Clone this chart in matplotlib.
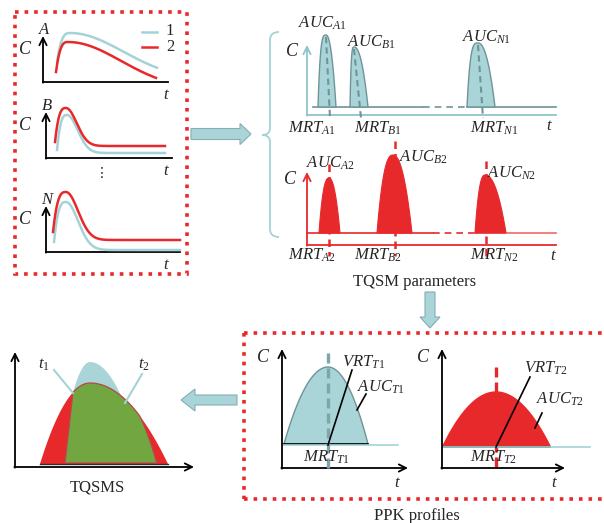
import numpy as np
import matplotlib
matplotlib.use("Agg")
import matplotlib.pyplot as plt
from matplotlib.patches import FancyArrow, Polygon, Rectangle, PathPatch
from matplotlib.path import Path

plt.rcParams["font.family"] = "Liberation Serif"
plt.rcParams["mathtext.fontset"] = "custom"
plt.rcParams["mathtext.it"] = "Liberation Serif:italic"
plt.rcParams["mathtext.rm"] = "Liberation Serif"

BLUE = "#a9d5d8"
BLUE_LINE = "#a4d3d7"
BLUE_EDGE = "#6f9498"
RED = "#e8292b"
GREEN = "#72a641"
INK = "#262626"

# ---------------------------------------------------------------------------
# Schematic data (pixel space, y grows downward)
# ---------------------------------------------------------------------------
PK_NAMES = ["A", "B", "N"]
# concentration curves: (start x, start y, peak x, peak y, plateau y, decay width, end x)
PK_GROUP1 = [(57, 62, 70, 33, 80, 75, 157),
             (57, 150, 67, 115, 153, 15, 165),
             (54, 242, 66, 202, 250, 17, 180)]
PK_GROUP2 = [(56, 72, 68, 42, 90, 75, 156),
             (55, 142, 66, 108, 146, 15, 165),
             (53, 232, 66, 192, 240, 17, 180)]
PK_AXIS_X = [43, 46, 46]
PK_AXIS_Y = [82, 158, 252]
PK_AXIS_END = [168, 172, 180]

# TQSM peaks: (left foot, peak x, right foot), peak top, MRT position
TQSM1_SPAN = [(318, 326, 336), (350, 354, 368), (467, 478, 495)]
TQSM1_TOP = [35, 47, 43]
TQSM1_MRT = [330, 361, 483]
TQSM2_SPAN = [(319, 329, 340), (377, 393, 412), (475, 485, 506)]
TQSM2_TOP = [178, 155, 175]
TQSM2_MRT = [329, 395, 486]

# PPK profiles: (left foot, peak x, right foot), baseline, top
PPK_SPAN = [(284, 328, 368), (443, 496, 550)]
PPK_BASE = [444, 446]
PPK_TOP = [367, 392]

# TQSMS overlap: red profile, blue profile, green common area
TQSMS_RED = (40, 90, 168, 383)
TQSMS_BLUE = (59, 90, 144, 362)
TQSMS_GREEN = (65, 73, 157)
TQSMS_BASE = 464


def pk_curve(xs, ys, xp, yp, plateau, tau, xe, n=200):
    x1 = np.linspace(xs, xp, n // 4)
    u = (x1 - xs) / (xp - xs)
    y1 = ys + (yp - ys) * (1 - (1 - u) ** 3)
    x2 = np.linspace(xp, xe, n)
    y2 = plateau + (yp - plateau) * np.exp(-((x2 - xp) / tau) ** 2)
    return np.r_[x1, x2], np.r_[y1, y2]


def hump(x0, xp, x1, base, top, pl=2, pr=2, n=120):
    xl = np.linspace(x0, xp, n)
    fl = 1 - (1 - (xl - x0) / (xp - x0)) ** pl
    xr = np.linspace(xp, x1, n)
    fr = 1 - ((xr - xp) / (x1 - xp)) ** pr
    x = np.r_[xl, xr]
    f = np.r_[fl, fr]
    return x, base - (base - top) * f


def axis_arrow(ax, tail, tip, color="black", lw=1.3):
    ax.annotate("", xy=tip, xytext=tail,
                arrowprops=dict(arrowstyle="->", lw=lw, color=color,
                                shrinkA=0, shrinkB=0, mutation_scale=13))


def label(ax, x, y, s, size=12, **kw):
    ax.text(x, y, s, ha="center", va="center", fontsize=size, color=INK, **kw)


def block_arrow(ax, x, y, dx, dy, width, head_w, head_l):
    ax.add_patch(FancyArrow(x, y, dx, dy, width=width, head_width=head_w,
                            head_length=head_l, length_includes_head=True,
                            facecolor=BLUE, edgecolor="#86aeb2", lw=0.8, zorder=2))


def sub(name, digit):
    return r"%s\mathrm{%s}" % (name, digit)


fig = plt.figure(figsize=(6.04, 5.23), dpi=100)
ax = fig.add_axes([0, 0, 1, 1])
ax.set_xlim(0, 604)
ax.set_ylim(523, 0)
ax.axis("off")

# ---- left column: concentration curves of each component ----
ax.add_patch(Rectangle((15, 12), 172, 262, fill=False, edgecolor=RED,
                       lw=2.6, linestyle=":"))
for i, name in enumerate(PK_NAMES):
    x0, y0 = PK_AXIS_X[i], PK_AXIS_Y[i]
    axis_arrow(ax, (x0, y0 + 0.7), (x0, y0 - 46))
    ax.plot([x0, PK_AXIS_END[i]], [y0, y0], color="black", lw=1.3)
    label(ax, x0 + 1, y0 - 52, name, style="italic")
    label(ax, 25, y0 - 33, "C", size=13, style="italic")
    label(ax, 166, y0 + 13, "t", style="italic")
    xb, yb = pk_curve(*PK_GROUP1[i])
    xr, yr = pk_curve(*PK_GROUP2[i])
    ax.plot(xb, yb, color=BLUE_LINE, lw=1.8)
    ax.plot(xr, yr, color=RED, lw=1.8)
ax.plot([142, 157], [32, 32], color=BLUE_LINE, lw=1.8)
ax.plot([142, 157], [47, 47], color=RED, lw=1.8)
label(ax, 170, 31, "1", size=12)
label(ax, 170, 47, "2", size=12)
label(ax, 102, 173, "\u22ee", size=10, family="DejaVu Sans")

block_arrow(ax, 191, 134, 60, 0, 11, 21, 11)

# bracket
verts = [(279, 32), (270, 32), (270, 40), (270, 128), (270, 135), (262, 135),
         (270, 135), (270, 142), (270, 229), (270, 237), (279, 237)]
codes = [Path.MOVETO, Path.CURVE3, Path.CURVE3, Path.LINETO, Path.CURVE3,
         Path.CURVE3, Path.CURVE3, Path.CURVE3, Path.LINETO, Path.CURVE3,
         Path.CURVE3]
ax.add_patch(PathPatch(Path(verts, codes), fill=False, edgecolor=BLUE_LINE, lw=1.3))

# ---- TQSM parameters, group 1 ----
ax_col = "#8cc4ca"
axis_arrow(ax, (307, 115.7), (307, 45), color=ax_col)
ax.plot([307, 556], [115, 115], color=ax_col, lw=1.3)
label(ax, 292, 52, "C", size=13, style="italic")
label(ax, 549, 126, "t", style="italic")
ax.plot([313, 423], [107, 107], color=BLUE_EDGE, lw=1.2)
ax.plot([423, 467], [107, 107], color=BLUE_EDGE, lw=1.2, linestyle=(0, (4, 3)))
ax.plot([467, 556], [107, 107], color=BLUE_EDGE, lw=1.2)
auc1_pos = [(322, 23), (371, 42), (487, 37)]
mrt1_pos = [(312, 128), (378, 128), (494, 128)]
for i, name in enumerate(PK_NAMES):
    x, y = hump(*TQSM1_SPAN[i], 107, TQSM1_TOP[i], pl=3.5, pr=2.2)
    ax.fill(x, y, facecolor=BLUE, edgecolor=BLUE_EDGE, lw=1.0, zorder=2)
    xp = TQSM1_SPAN[i][1]
    ax.plot([xp, TQSM1_MRT[i]], [TQSM1_TOP[i] + 2, 118], color="#6f9498",
            lw=1.5, linestyle=(0, (3, 2)), zorder=3)
    label(ax, *auc1_pos[i], r"$AUC_{%s}$" % sub(name, 1))
    label(ax, *mrt1_pos[i], r"$MRT_{%s}$" % sub(name, 1))

# ---- TQSM parameters, group 2 ----
axis_arrow(ax, (307, 245.7), (307, 172), color=RED)
ax.plot([307, 556], [245, 245], color=RED, lw=1.3)
label(ax, 290, 180, "C", size=13, style="italic")
label(ax, 553, 256, "t", style="italic")
ax.plot([307, 433], [233, 233], color=RED, lw=1.2)
ax.plot([433, 475], [233, 233], color=RED, lw=1.2, linestyle=(0, (4, 3)))
ax.plot([475, 556], [233, 233], color="#ef6a6a", lw=1.2)
auc2_pos = [(330, 163), (423, 157), (512, 173)]
mrt2_pos = [(312, 255), (378, 255), (494, 255)]
for i, name in enumerate(PK_NAMES):
    ax.plot([TQSM2_MRT[i], TQSM2_MRT[i]], [TQSM2_TOP[i] - 14, 256], color=RED,
            lw=1.8, linestyle=(0, (3, 2)), zorder=1)
    x, y = hump(*TQSM2_SPAN[i], 233, TQSM2_TOP[i], pl=2.5, pr=2.2)
    ax.fill(x, y, facecolor=RED, edgecolor=RED, lw=0.8, zorder=2)
    label(ax, *auc2_pos[i], r"$AUC_{%s}$" % sub(name, 2))
    label(ax, *mrt2_pos[i], r"$MRT_{%s}$" % sub(name, 2))
label(ax, 415, 282, "TQSM parameters", size=12)

block_arrow(ax, 430, 292, 0, 36, 10, 20, 11)

# ---- PPK profiles ----
ax.plot([244, 604], [333, 333], color=RED, lw=2.6, linestyle=":")
ax.plot([244, 244], [333, 499], color=RED, lw=2.6, linestyle=":")
ax.plot([244, 604], [499, 499], color=RED, lw=2.6, linestyle=":")
label(ax, 417, 516, "PPK profiles", size=12)

ppk_axis_x = [282, 442]
ppk_axis_end = [408, 565]
ppk_fill = [BLUE, RED]
ppk_edge = [BLUE_EDGE, RED]
vrt_pos = [(364, 362), (546, 368)]
vrt_line = [((328, 445), (352, 370)), ((496, 447), (530, 377))]
auc_pos = [(381, 387), (560, 399)]
auc_line = [((357, 410), (366, 394)), ((535, 428), (542, 413))]
mrt_pos = [(327, 457), (494, 457)]
for i in range(2):
    x0 = ppk_axis_x[i]
    axis_arrow(ax, (x0, 468.7), (x0, 349))
    axis_arrow(ax, (x0 - 0.7, 468), (ppk_axis_end[i], 468))
    label(ax, x0 - 19, 357, "C", size=13, style="italic")
    label(ax, ppk_axis_end[i] - 11, 483, "t", style="italic")
    x0f, xp, x1f = PPK_SPAN[i]
    base = PPK_BASE[i]
    if i == 0:
        ax.plot([xp, xp], [353, 470], color="#7ea5aa", lw=2.4,
                linestyle=(0, (3, 1.5)), zorder=3)
    else:
        ax.plot([xp, xp], [367, 470], color=RED, lw=2.4,
                linestyle=(0, (3, 1.5)), zorder=1)
    x, y = hump(x0f, xp, x1f, base, PPK_TOP[i])
    ax.fill(x, y, facecolor=ppk_fill[i], edgecolor=ppk_edge[i], lw=1.0, zorder=2)
    ax.plot([x0 + 1, x1f], [base + 0.5 * i, base + 0.5 * i], color="black", lw=1.2, zorder=2)
    ax.plot([x0 + 1, x1f + 30 + 10 * i], [base + 1, base + 1], color=BLUE_LINE, lw=1.2, zorder=2)
    ax.plot(*zip(*vrt_line[i]), color="black", lw=1.2, zorder=4)
    ax.plot(*zip(*auc_line[i]), color="black", lw=1.2, zorder=4)
    tag = sub("T", i + 1)
    label(ax, *vrt_pos[i], r"$VRT_{%s}$" % tag)
    label(ax, *auc_pos[i], r"$AUC_{%s}$" % tag)
    label(ax, *mrt_pos[i], r"$MRT_{%s}$" % tag, zorder=5)

block_arrow(ax, 237, 400, -56, 0, 10, 22, 14)

# ---- TQSMS ----
axis_arrow(ax, (15, 467.7), (15, 352))
axis_arrow(ax, (14.3, 467), (194, 467))
rx0, rxp, rx1, rtop = TQSMS_RED
bx0, bxp, bx1, btop = TQSMS_BLUE
xb, yb = hump(bx0, bxp, bx1, TQSMS_BASE, btop)
ax.fill(xb, yb, facecolor=BLUE, edgecolor="none", zorder=2)
xr, yr = hump(rx0, rxp, rx1, TQSMS_BASE, rtop)
ax.fill(xr, yr, facecolor=RED, edgecolor="none", zorder=3)
gx0, gx_join, gx1 = TQSMS_GREEN
xg = np.linspace(gx_join, gx1, 200)
xs_red, ys_red = hump(rx0, rxp, rx1, TQSMS_BASE, rtop, n=400)
order = np.argsort(xs_red)
ry = np.interp(xg, xs_red[order], ys_red[order])
xs_g, ys_g = hump(rx0, rxp, gx1, TQSMS_BASE, rtop, pr=3, n=400)
order_g = np.argsort(xs_g)
gy = np.interp(xg, xs_g[order_g], ys_g[order_g])
top = np.maximum(ry, gy)
poly = np.r_[[[gx0, TQSMS_BASE - 1]], np.c_[xg, top], [[gx1, TQSMS_BASE - 1]]]
ax.add_patch(Polygon(poly, closed=True, facecolor=GREEN, edgecolor="#b8484a",
                     lw=0.9, zorder=4))
ax.plot([rx0, rx1], [TQSMS_BASE, TQSMS_BASE], color="#3a2a2a", lw=1.0, zorder=5)
ax.plot([54, gx_join], [370, 393], color=BLUE_LINE, lw=1.5, zorder=5)
ax.plot([142, 125], [374, 403], color=BLUE_LINE, lw=1.5, zorder=5)
label(ax, 44, 365, r"$t_{\mathrm{1}}$")
label(ax, 144, 365, r"$t_{\mathrm{2}}$")
label(ax, 97, 488, "TQSMS")

fig.savefig("out.png", dpi=100)
